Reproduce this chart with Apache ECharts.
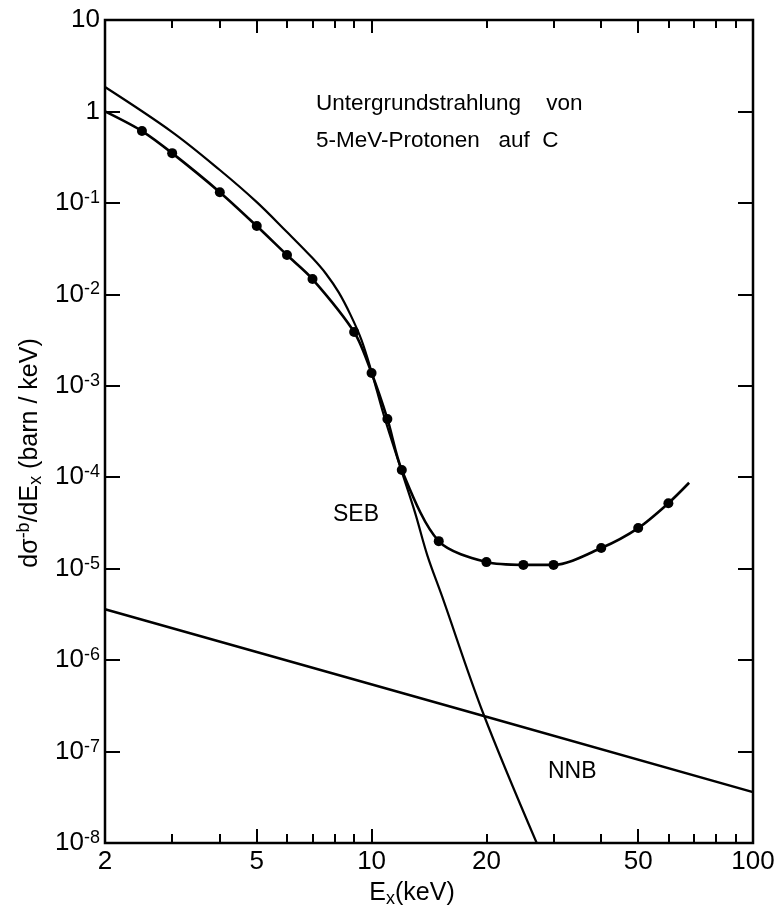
<!DOCTYPE html>
<html>
<head>
<meta charset="utf-8">
<script src="https://cdn.jsdelivr.net/npm/echarts@6/dist/echarts.min.js"></script>
<style>
html, body { margin: 0; padding: 0; background: #fff; }
#main { width: 780px; height: 920px; }
</style>
</head>
<body>
<div id="main"></div>
<script>
// measured points (dots) of the total background
var pointE = [2.5, 3, 4, 5, 6, 7, 9, 10, 11, 12, 15, 20, 25, 30, 40, 50, 60];
var pointY = [0.61, 0.35, 0.131, 0.0558, 0.0269, 0.0147, 3.87e-3, 1.38e-3, 4.34e-4, 1.2e-4,
              2.0e-5, 1.18e-5, 1.1e-5, 1.1e-5, 1.68e-5, 2.78e-5, 5.2e-5];
// curve through the points, with its two free ends
var curveStart = [2, 1.0];
var curveEnd = [68, 8.7e-5];

// SEB curve
var sebE = [2, 3, 4, 5, 6, 7, 7.6, 8.2, 8.8, 9.4, 10, 10.8, 12, 13, 14, 15.3, 19.6, 27.1];
var sebY = [1.85, 0.595, 0.229, 0.102, 0.048, 0.0249, 0.0167, 0.0105, 6.0e-3, 3.2e-3, 1.42e-3,
            4.55e-4, 1.15e-4, 4.1e-5, 1.4e-5, 5.0e-6, 2.64e-7, 1e-8];

// NNB line
var nnbE = [2, 20, 100];
var nnbY = [3.6e-6, 2.4e-7, 3.6e-8];

var xLabelValues = [2, 5, 10, 20, 50, 100];
var xMajorTicks = [5, 10, 50];
var xMinorTicks = [3, 4, 6, 7, 8, 9, 20, 30, 40, 60, 70, 80, 90];
var yDecades = [1e-8, 1e-7, 1e-6, 1e-5, 1e-4, 1e-3, 1e-2, 1e-1, 1, 10];

var FONT = 'Liberation Sans';

function pairs(xs, ys) {
    var out = [];
    for (var i = 0; i < xs.length; i++) out.push([xs[i], ys[i]]);
    return out;
}

var curveData = [curveStart].concat(pairs(pointE, pointY)).concat([curveEnd]);

function yLabel(v) {
    var e = Math.round(Math.log10(v));
    if (e === 1) return '{b|10}';
    if (e === 0) return '{b|1}';
    return '{b|10}{e|' + e + '}';
}

var chart = echarts.init(document.getElementById('main'));

function xAxisDef(pos, ticks, len, withLabels) {
    return {
        type: 'log', logBase: 10, min: 2, max: 100, position: pos,
        axisLine: { show: false },
        splitLine: { show: false },
        axisTick: { show: true, inside: true, length: len, customValues: ticks,
                    lineStyle: { color: '#000', width: 2 } },
        axisLabel: withLabels ? {
            show: true, customValues: xLabelValues, margin: 6,
            fontFamily: FONT, fontSize: 26, color: '#000',
            formatter: function (v) { return String(Math.round(v)); }
        } : { show: false }
    };
}

var option = {
    animation: false,
    backgroundColor: '#fff',
    grid: {
        left: 105, right: 27, top: 20, bottom: 77,
        show: true, borderColor: '#000', borderWidth: 2.5, backgroundColor: 'transparent'
    },
    xAxis: [
        xAxisDef('bottom', xMajorTicks, 14, true),
        xAxisDef('bottom', xMinorTicks, 9, false),
        xAxisDef('top', xMajorTicks, 13, false),
        xAxisDef('top', xMinorTicks, 8, false)
    ],
    yAxis: [
        {
            type: 'log', logBase: 10, min: 1e-8, max: 10, position: 'left',
            axisLine: { show: false },
            splitLine: { show: false },
            axisTick: { show: true, inside: true, length: 15, customValues: yDecades,
                        lineStyle: { color: '#000', width: 2 } },
            axisLabel: {
                show: true, customValues: yDecades, margin: 5,
                formatter: yLabel,
                rich: {
                    b: { fontFamily: FONT, fontSize: 26, color: '#000', lineHeight: 28 },
                    e: { fontFamily: FONT, fontSize: 18, color: '#000', lineHeight: 18, verticalAlign: 'top' }
                }
            }
        },
        {
            type: 'log', logBase: 10, min: 1e-8, max: 10, position: 'right',
            axisLine: { show: false },
            splitLine: { show: false },
            axisTick: { show: true, inside: true, length: 15, customValues: yDecades,
                        lineStyle: { color: '#000', width: 2 } },
            axisLabel: { show: false }
        }
    ],
    series: [
        {
            name: 'total', type: 'line', data: curveData, smooth: 0.3,
            showSymbol: false, lineStyle: { color: '#000', width: 2.6 }
        },
        {
            name: 'points', type: 'scatter', data: pairs(pointE, pointY),
            symbol: 'circle', symbolSize: 10, itemStyle: { color: '#000', opacity: 1 }
        },
        {
            name: 'SEB', type: 'line', data: pairs(sebE, sebY), smooth: 0.35,
            showSymbol: false, lineStyle: { color: '#000', width: 2.2 }
        },
        {
            name: 'NNB', type: 'line', data: pairs(nnbE, nnbY),
            showSymbol: false, lineStyle: { color: '#000', width: 2.5 }
        }
    ],
    graphic: [
        { type: 'text', left: 316, top: 92,
          style: { text: 'Untergrundstrahlung    von', fontFamily: FONT, fontSize: 22.5, fill: '#000' } },
        { type: 'text', left: 316, top: 129,
          style: { text: '5-MeV-Protonen   auf  C', fontFamily: FONT, fontSize: 22.5, fill: '#000' } },
        { type: 'text', left: 333, top: 503,
          style: { text: 'SEB', fontFamily: FONT, fontSize: 23, fill: '#000' } },
        { type: 'text', left: 548, top: 760,
          style: { text: 'NNB', fontFamily: FONT, fontSize: 23, fill: '#000' } },
        { type: 'text', x: 412, y: 893,
          style: {
              text: '{m|E}{s|x}{m|(keV)}', align: 'center', verticalAlign: 'middle',
              rich: {
                  m: { fontFamily: FONT, fontSize: 25, fill: '#000', lineHeight: 30 },
                  s: { fontFamily: FONT, fontSize: 18, fill: '#000', lineHeight: 20, verticalAlign: 'bottom' }
              }
          } },
        { type: 'text', x: 30, y: 453, rotation: Math.PI / 2,
          style: {
              text: '{m|d\u03c3}{p|-b}{m|/dE}{s|x}{m| (barn / keV)}', align: 'center', verticalAlign: 'middle',
              rich: {
                  m: { fontFamily: FONT, fontSize: 25, fill: '#000', lineHeight: 30 },
                  p: { fontFamily: FONT, fontSize: 18, fill: '#000', lineHeight: 18, verticalAlign: 'top' },
                  s: { fontFamily: FONT, fontSize: 18, fill: '#000', lineHeight: 20, verticalAlign: 'bottom' }
              }
          } }
    ]
};

chart.setOption(option);
</script>
</body>
</html>
